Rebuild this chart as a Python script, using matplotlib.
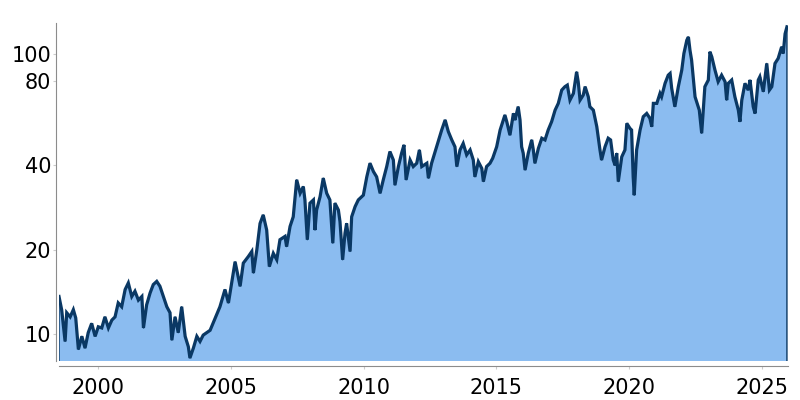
# 株価チャート（対数軸・面グラフ）

# --------------------------------------------
# インポート
# --------------------------------------------
import matplotlib
matplotlib.use("Agg")
from matplotlib import pyplot as plt
from matplotlib.ticker import FixedLocator, NullLocator

# --------------------------------------------
# データ
# --------------------------------------------

# 年（小数）
years = [
    1998.53, 1998.63, 1998.76, 1998.82, 1998.95, 1999.07, 1999.16, 1999.26, 1999.39, 1999.51,
    1999.63, 1999.76, 1999.89, 2000.01, 2000.14, 2000.26, 2000.39, 2000.52, 2000.64, 2000.76,
    2000.89, 2001.02, 2001.14, 2001.27, 2001.39, 2001.52, 2001.65, 2001.71, 2001.83, 2001.96,
    2002.08, 2002.21, 2002.33, 2002.46, 2002.59, 2002.71, 2002.78, 2002.90, 2003.02, 2003.15,
    2003.28, 2003.40, 2003.46, 2003.59, 2003.72, 2003.84, 2003.96, 2004.22, 2004.59, 2004.78,
    2004.91, 2005.16, 2005.35, 2005.47, 2005.66, 2005.79, 2005.85, 2005.98, 2006.10, 2006.22,
    2006.35, 2006.45, 2006.60, 2006.73, 2006.85, 2007.04, 2007.10, 2007.23, 2007.35, 2007.48,
    2007.61, 2007.73, 2007.79, 2007.88, 2007.98, 2008.11, 2008.17, 2008.23, 2008.36, 2008.48,
    2008.61, 2008.73, 2008.84, 2008.92, 2009.05, 2009.11, 2009.21, 2009.30, 2009.36, 2009.49,
    2009.55, 2009.68, 2009.80, 2009.99, 2010.12, 2010.24, 2010.37, 2010.49, 2010.62, 2010.74,
    2010.87, 2010.99, 2011.12, 2011.18, 2011.31, 2011.43, 2011.52, 2011.60, 2011.75, 2011.87,
    2012.00, 2012.10, 2012.19, 2012.38, 2012.44, 2012.56, 2012.75, 2012.94, 2013.07, 2013.19,
    2013.32, 2013.44, 2013.51, 2013.63, 2013.75, 2013.88, 2014.01, 2014.13, 2014.19, 2014.32,
    2014.45, 2014.51, 2014.63, 2014.76, 2014.86, 2015.01, 2015.14, 2015.20, 2015.32, 2015.39,
    2015.51, 2015.64, 2015.70, 2015.82, 2015.89, 2015.95, 2016.01, 2016.08, 2016.20, 2016.33,
    2016.39, 2016.45, 2016.58, 2016.71, 2016.83, 2016.95, 2017.08, 2017.21, 2017.33, 2017.46,
    2017.58, 2017.67, 2017.77, 2017.90, 2018.02, 2018.08, 2018.15, 2018.27, 2018.34, 2018.46,
    2018.52, 2018.65, 2018.78, 2018.90, 2018.96, 2019.09, 2019.21, 2019.30, 2019.40, 2019.47,
    2019.53, 2019.59, 2019.72, 2019.84, 2019.91, 2020.03, 2020.09, 2020.15, 2020.19, 2020.28,
    2020.41, 2020.53, 2020.66, 2020.78, 2020.85, 2020.91, 2021.04, 2021.16, 2021.22, 2021.35,
    2021.47, 2021.54, 2021.60, 2021.72, 2021.85, 2021.98, 2022.06, 2022.17, 2022.23, 2022.29,
    2022.35, 2022.48, 2022.56, 2022.64, 2022.73, 2022.85, 2022.98, 2023.04, 2023.11, 2023.23,
    2023.35, 2023.48, 2023.61, 2023.67, 2023.73, 2023.86, 2023.98, 2024.11, 2024.17, 2024.24,
    2024.36, 2024.48, 2024.55, 2024.67, 2024.74, 2024.86, 2024.92, 2025.05, 2025.18, 2025.28,
    2025.37, 2025.49, 2025.61, 2025.74, 2025.80, 2025.87, 2025.94,
]

# 株価
prices = [
    13.6, 12.2, 9.4, 11.9, 11.5, 12.2, 11.4, 8.8, 9.8, 8.9,
    10.1, 10.9, 9.8, 10.6, 10.5, 11.5, 10.5, 11.2, 11.5, 12.9,
    12.5, 14.4, 15.2, 13.6, 14.2, 13.2, 13.6, 10.5, 12.7, 14.0,
    15.0, 15.4, 14.8, 13.6, 12.5, 11.9, 9.5, 11.5, 10.1, 12.5,
    9.8, 9.0, 8.2, 8.9, 9.8, 9.4, 9.9, 10.3, 12.5, 14.4,
    12.9, 18.1, 14.8, 17.9, 18.9, 19.7, 16.5, 20.0, 24.8, 26.6,
    23.5, 17.4, 19.4, 18.4, 21.7, 22.3, 20.5, 24.2, 26.2, 35.5,
    31.8, 33.6, 30.1, 21.7, 29.3, 30.1, 23.5, 27.7, 30.9, 36.0,
    31.8, 30.1, 21.1, 29.3, 27.7, 25.2, 18.4, 22.9, 24.8, 19.7,
    26.2, 28.5, 30.1, 31.3, 36.4, 40.7, 38.0, 36.4, 31.8, 35.5,
    39.6, 44.8, 41.8, 34.0, 39.6, 44.2, 47.3, 35.5, 41.8, 39.6,
    40.7, 45.4, 39.6, 40.7, 36.0, 40.7, 46.6, 53.5, 58.1, 52.8,
    49.3, 46.6, 39.6, 45.4, 47.9, 43.6, 45.4, 41.8, 36.4, 41.2,
    39.0, 35.0, 39.6, 40.7, 42.4, 46.6, 53.5, 55.7, 60.5, 57.3,
    51.3, 61.3, 58.1, 64.8, 58.1, 46.6, 44.2, 38.5, 44.2, 49.3,
    45.4, 40.7, 46.0, 50.0, 49.3, 53.5, 57.3, 63.0, 66.6, 74.3,
    76.4, 77.4, 68.4, 72.3, 86.3, 79.6, 68.4, 71.3, 76.4, 70.3,
    64.8, 63.0, 55.0, 45.4, 41.8, 46.6, 50.0, 49.3, 41.8, 40.0,
    44.2, 35.0, 42.9, 45.4, 56.5, 54.2, 53.5, 36.4, 31.3, 45.4,
    53.5, 59.7, 61.3, 58.9, 55.0, 66.6, 66.6, 72.3, 70.3, 78.5,
    84.0, 85.2, 75.4, 64.8, 76.4, 87.6, 100.4, 112.0, 115.0, 103.0,
    95.1, 70.3, 66.6, 63.0, 52.1, 76.4, 80.7, 101.8, 97.7, 87.6,
    79.6, 84.0, 79.6, 68.4, 78.5, 80.7, 70.3, 63.0, 57.3, 68.4,
    78.5, 74.3, 80.7, 64.8, 61.3, 80.7, 82.9, 73.3, 92.5, 74.3,
    76.4, 92.5, 96.4, 106.0, 100.4, 118.0, 125.0,
]

# 目盛り
x_ticks = [2000, 2005, 2010, 2015, 2020, 2025]
y_ticks = [10, 20, 40, 80, 100]

# 色
fill_color = "#8bbcf0"
line_color = "#0a3864"
axis_color = "#8c8c8c"

# --------------------------------------------
# 描画
# --------------------------------------------

fig = plt.figure(figsize=(8, 4), dpi=100)
ax = fig.add_axes([0.07375, 0.0975, 0.91125, 0.845])

# 面と線
ax.fill_between(years, prices, 1, facecolor=fill_color, edgecolor=line_color, linewidth=1.0)
ax.plot(years, prices, color=line_color, linewidth=2.3, solid_joinstyle="miter")

# 対数軸
ax.set_yscale("log")
ax.set_ylim(8.0, 129)
ax.set_xlim(1998.53, 2025.98)

# 目盛り
ax.yaxis.set_major_locator(FixedLocator(y_ticks))
ax.yaxis.set_minor_locator(NullLocator())
ax.set_yticklabels([str(v) for v in y_ticks])
ax.set_xticks(x_ticks)
ax.set_xticklabels([str(v) for v in x_ticks])
ax.tick_params(axis="both", labelsize=15, length=2, width=0.8, color="#cccccc")
ax.tick_params(axis="y", pad=1)
ax.tick_params(axis="x", pad=7)

# 枠線
ax.spines["top"].set_visible(False)
ax.spines["right"].set_visible(False)
ax.spines["left"].set_color(axis_color)
ax.spines["bottom"].set_color(axis_color)
ax.spines["left"].set_position(("outward", 2.5))
ax.spines["bottom"].set_position(("outward", 3.6))

fig.savefig("out.png", dpi=100)
